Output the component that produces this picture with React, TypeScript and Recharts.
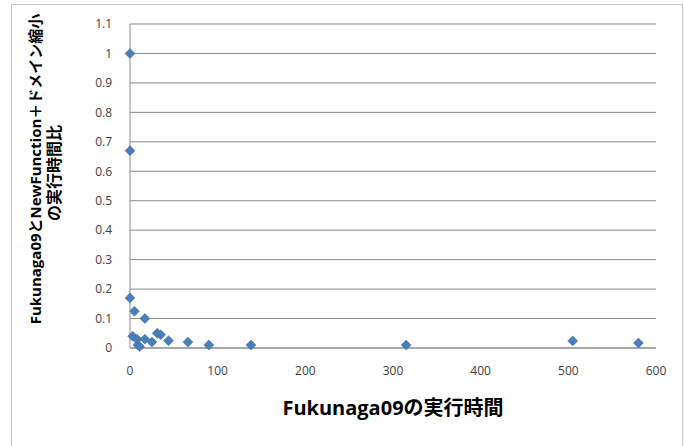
import { ScatterChart, Scatter, XAxis, YAxis, CartesianGrid } from 'recharts'

const execTime = [0, 0, 0, 5, 17, 3, 8, 9, 11, 17, 25, 31, 35, 44, 66, 90, 138, 315, 505, 580]
const ratio = [1.0, 0.67, 0.17, 0.125, 0.1, 0.04, 0.03, 0.01, 0.005, 0.03, 0.02, 0.05, 0.045, 0.025, 0.02, 0.01, 0.01, 0.01, 0.024, 0.017]
const xTicks = [0, 100, 200, 300, 400, 500, 600]
const yTicks = [0, 0.1, 0.2, 0.3, 0.4, 0.5, 0.6, 0.7, 0.8, 0.9, 1, 1.1]

const points = execTime.map((x, i) => ({ x, y: ratio[i] }))

const FONT = '"Open Sans", "Noto Sans CJK JP", sans-serif'
const MARKER = '#4A7EBB'

function Diamond(props: any) {
  const { cx, cy } = props
  const r = 5
  return (
    <polygon
      points={`${cx},${cy - r} ${cx + r},${cy} ${cx},${cy + r} ${cx - r},${cy}`}
      fill={MARKER}
      stroke="#3d6ea8"
      strokeWidth={0.5}
    />
  )
}

function YTitle(props: any) {
  const vb = props.viewBox || {}
  const cy = vb.y + vb.height / 2 - 17
  return (
    <g fontFamily={FONT} fontWeight="bold" fontSize={15} fill="#000">
      <text x={35} y={cy} textAnchor="middle" transform={`rotate(-90, 35, ${cy})`} dominantBaseline="central">
        Fukunaga09とNewFunction＋ドメイン縮小
      </text>
      <text x={54} y={cy + 4} textAnchor="middle" fontSize={16} transform={`rotate(-90, 54, ${cy + 4})`} dominantBaseline="central">
        の実行時間比
      </text>
    </g>
  )
}

export default function App() {
  return (
    <div style={{ position: 'fixed', left: 0, top: 0, width: 684, height: 446, background: '#fff' }}>
      <div
        style={{
          position: 'absolute',
          left: 11,
          top: 4,
          width: 672,
          height: 450,
          border: '1px solid #c8c8c8',
          boxSizing: 'border-box'
        }}
      />
      <ScatterChart
        width={684}
        height={446}
        margin={{ top: 24, right: 28, left: 0, bottom: 38 }}
        style={{ position: 'absolute', left: 0, top: 0 }}
      >
        <CartesianGrid vertical={false} stroke="#8c8c8c" strokeWidth={1} />
        <XAxis
          type="number"
          dataKey="x"
          domain={[0, 600]}
          ticks={xTicks}
          height={60}
          tickLine={false}
          axisLine={{ stroke: '#8c8c8c' }}
          tickMargin={12}
          tick={{ fontSize: 12, fill: '#404040', fontFamily: FONT }}
          label={{
            value: 'Fukunaga09の実行時間',
            position: 'insideBottom',
            offset: -7,
            style: { fontSize: 20, fontWeight: 'bold', fill: '#000', fontFamily: FONT }
          }}
        />
        <YAxis
          type="number"
          dataKey="y"
          domain={[0, 1.1]}
          ticks={yTicks}
          width={130}
          tickLine={false}
          axisLine={{ stroke: '#8c8c8c' }}
          tickMargin={12}
          tick={{ fontSize: 12, fill: '#404040', fontFamily: FONT }}
          label={<YTitle />}
        />
        <Scatter data={points} shape={<Diamond />} isAnimationActive={false} />
      </ScatterChart>
    </div>
  )
}
